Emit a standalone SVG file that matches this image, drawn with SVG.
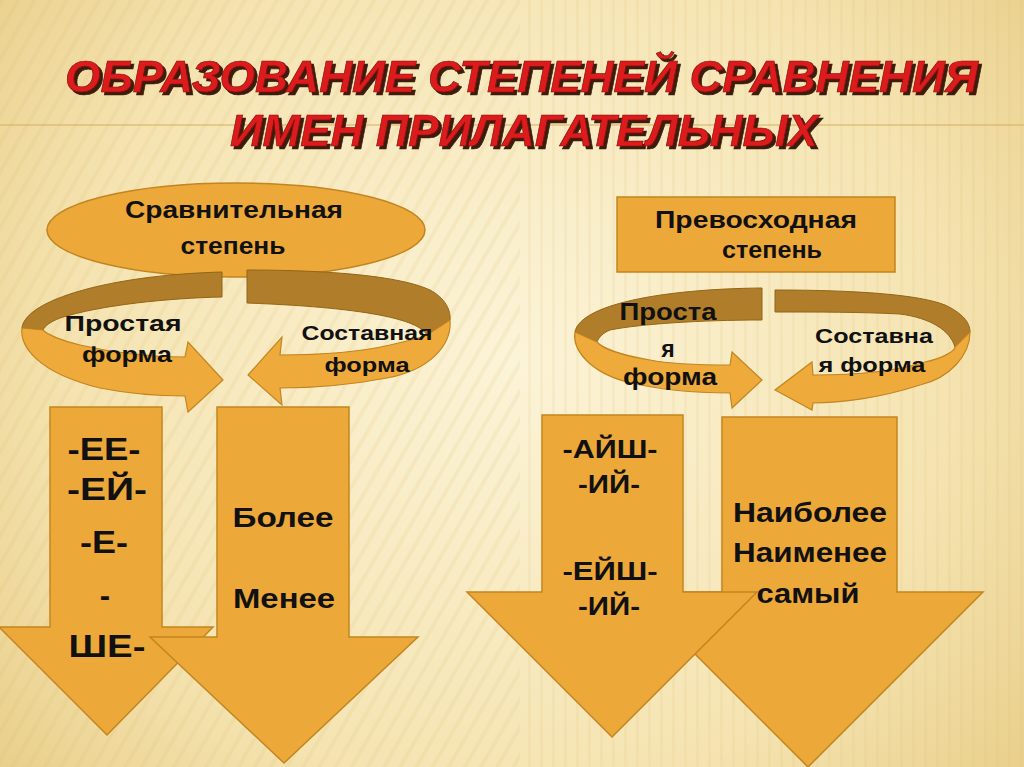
<svg xmlns="http://www.w3.org/2000/svg" width="1024" height="767" viewBox="0 0 1024 767">
<defs>
<radialGradient id="bg" cx="512" cy="360" r="720" gradientUnits="userSpaceOnUse">
<stop offset="0" stop-color="#fcf4d8"/>
<stop offset="0.6" stop-color="#f5e4b2"/>
<stop offset="1" stop-color="#e6c980"/>
</radialGradient>
<pattern id="diag" width="14" height="14" patternUnits="userSpaceOnUse" patternTransform="rotate(30)">
<rect width="4" height="14" fill="#d9b870"/>
</pattern>
<pattern id="vert" width="12" height="12" patternUnits="userSpaceOnUse">
<rect width="3" height="12" fill="#d9b870"/>
</pattern>
<filter id="sh" x="-5%" y="-20%" width="110%" height="150%">
<feDropShadow dx="3" dy="3" stdDeviation="0.6" flood-color="#3b1d0e" flood-opacity="1"/>
</filter>
<style>
.arr{fill:#eda83a;stroke:#c2851f;stroke-width:1.5;stroke-linejoin:miter}
.back{fill:#b07d2a;stroke:#946516;stroke-width:1}
.front{fill:#efaa3c;stroke:#c2851f;stroke-width:1.2}
.t{font-family:"Liberation Sans",Arial,sans-serif;font-weight:bold;fill:#111;text-anchor:middle}
.title{font-family:"Liberation Sans",Arial,sans-serif;font-weight:bold;font-style:italic;font-size:45px;fill:#dc1c1c;stroke:#8a0d0d;stroke-width:0.7}
</style>
</defs>
<rect width="1024" height="767" fill="url(#bg)"/>
<rect x="0" y="0" width="520" height="767" fill="url(#diag)" opacity="0.14"/>
<rect x="520" y="0" width="504" height="767" fill="url(#vert)" opacity="0.12"/>
<line x1="0" y1="125" x2="1024" y2="125" stroke="#d6ae5c" stroke-width="1.2"/>

<g id="title" filter="url(#sh)">
<text class="title" x="65" y="92" textLength="913" lengthAdjust="spacingAndGlyphs">ОБРАЗОВАНИЕ СТЕПЕНЕЙ СРАВНЕНИЯ</text>
<text class="title" x="230" y="146" textLength="588" lengthAdjust="spacingAndGlyphs">ИМЕН ПРИЛАГАТЕЛЬНЫХ</text>
</g>

<g id="comparative">
<ellipse cx="236" cy="230" rx="189" ry="47" class="arr"/>
<text class="t" x="234" y="218" font-size="23" textLength="218" lengthAdjust="spacingAndGlyphs">Сравнительная</text>
<text class="t" x="233" y="254" font-size="23" textLength="105" lengthAdjust="spacingAndGlyphs">степень</text>
</g>

<g id="superlative">
<rect x="617" y="197" width="278" height="75" class="arr"/>
<text class="t" x="756" y="228" font-size="23" textLength="202" lengthAdjust="spacingAndGlyphs">Превосходная</text>
<text class="t" x="772" y="258" font-size="23" textLength="100" lengthAdjust="spacingAndGlyphs">степень</text>
</g>

<g id="connectors">
<path class="back" d="M222,272 L222,297 C170,298 100,305 60,318 C50,322 45,326 43,330 L22,328 C25,300 110,275 222,272 Z"/>
<path class="front" d="M22,328 C20,345 35,372 100,388 C130,394 160,396 185,396 L188,412 L223,380 L188,342 L185,357 C150,357 110,352 80,345 C60,340 48,335 43,330 Z"/>
<path class="back" d="M247,270 C330,270 400,276 430,290 C445,298 451,310 450,320 L427,335 C420,322 380,308 247,303 Z"/>
<path class="front" d="M450,320 C452,345 430,370 387,378 C350,385 310,388 280,388 L282,405 L248,375 L282,337 L280,355 C320,355 360,352 390,345 C412,340 425,336 427,335 Z"/>
<path class="back" d="M762,288 L762,320 C700,320 640,324 610,330 C603,333 599,337 597,342 L575,332 C580,305 660,289 762,288 Z"/>
<path class="front" d="M575,332 C572,350 590,372 627,382 C660,390 700,393 730,393 L732,408 L762,380 L732,352 L730,365 C700,365 670,364 650,360 C620,355 602,348 597,342 Z"/>
<path class="back" d="M775,290 C860,290 920,295 945,305 C962,313 970,322 970,332 L955,347 C950,330 930,318 900,314 C860,312 820,312 775,312 Z"/>
<path class="front" d="M970,332 C970,355 950,378 920,385 C880,398 840,403 813,403 L812,410 L775,390 L812,362 L813,375 C860,375 900,370 925,362 C945,358 955,350 955,347 Z"/>
</g>

<g id="simple-cmp-label">
<text class="t" x="123" y="331" font-size="22" textLength="117" lengthAdjust="spacingAndGlyphs">Простая</text>
<text class="t" x="127" y="362" font-size="22" textLength="90" lengthAdjust="spacingAndGlyphs">форма</text>
</g>
<g id="compound-cmp-label">
<text class="t" x="367" y="340" font-size="20" textLength="131" lengthAdjust="spacingAndGlyphs">Составная</text>
<text class="t" x="367" y="372" font-size="20" textLength="85" lengthAdjust="spacingAndGlyphs">форма</text>
</g>
<g id="simple-sup-label">
<text class="t" x="668" y="320" font-size="23" textLength="97" lengthAdjust="spacingAndGlyphs">Проста</text>
<text class="t" x="668" y="357" font-size="23">я</text>
<text class="t" x="670" y="385" font-size="23" textLength="94" lengthAdjust="spacingAndGlyphs">форма</text>
</g>
<g id="compound-sup-label">
<text class="t" x="874" y="343" font-size="21" textLength="118" lengthAdjust="spacingAndGlyphs">Составна</text>
<text class="t" x="872" y="372" font-size="21" textLength="107" lengthAdjust="spacingAndGlyphs">я форма</text>
</g>

<g id="arrow-suffix-cmp">
<path class="arr" d="M50,407 L162,407 L162,627 L213,627 L107,735 L-1,627 L50,627 Z"/>
</g>
<g id="arrow-words-cmp">
<path class="arr" d="M217,407 L349,407 L349,637 L418,637 L284,763 L150,637 L217,637 Z"/>
<text class="t" x="283" y="527" font-size="28" textLength="101" lengthAdjust="spacingAndGlyphs">Более</text>
<text class="t" x="284" y="608" font-size="28" textLength="102" lengthAdjust="spacingAndGlyphs">Менее</text>
</g>
<g id="suffix-cmp-text">
<text class="t" x="104" y="460" font-size="31" textLength="73" lengthAdjust="spacingAndGlyphs">-ЕЕ-</text>
<text class="t" x="107" y="500" font-size="31" textLength="80" lengthAdjust="spacingAndGlyphs">-ЕЙ-</text>
<text class="t" x="104" y="553" font-size="31" textLength="48" lengthAdjust="spacingAndGlyphs">-Е-</text>
<text class="t" x="105" y="606" font-size="31">-</text>
<text class="t" x="107" y="657" font-size="31" textLength="77" lengthAdjust="spacingAndGlyphs">ШЕ-</text>
</g>

<g id="arrow-words-sup">
<path class="arr" d="M722,417 L897,417 L897,592 L983,592 L808,767 L633,592 L722,592 Z"/>
</g>
<g id="arrow-suffix-sup">
<path class="arr" d="M542,415 L683,415 L683,592 L757,592 L612,737 L467,592 L542,592 Z"/>
<text class="t" x="610" y="458" font-size="26" textLength="95" lengthAdjust="spacingAndGlyphs">-АЙШ-</text>
<text class="t" x="609" y="493" font-size="26" textLength="62" lengthAdjust="spacingAndGlyphs">-ИЙ-</text>
<text class="t" x="610" y="580" font-size="26" textLength="95" lengthAdjust="spacingAndGlyphs">-ЕЙШ-</text>
<text class="t" x="609" y="615" font-size="26" textLength="62" lengthAdjust="spacingAndGlyphs">-ИЙ-</text>
</g>
<g id="words-sup-text">
<text class="t" x="810" y="522" font-size="27" textLength="154" lengthAdjust="spacingAndGlyphs">Наиболее</text>
<text class="t" x="810" y="562" font-size="27" textLength="154" lengthAdjust="spacingAndGlyphs">Наименее</text>
<text class="t" x="808" y="603" font-size="27" textLength="103" lengthAdjust="spacingAndGlyphs">самый</text>
</g>
</svg>
